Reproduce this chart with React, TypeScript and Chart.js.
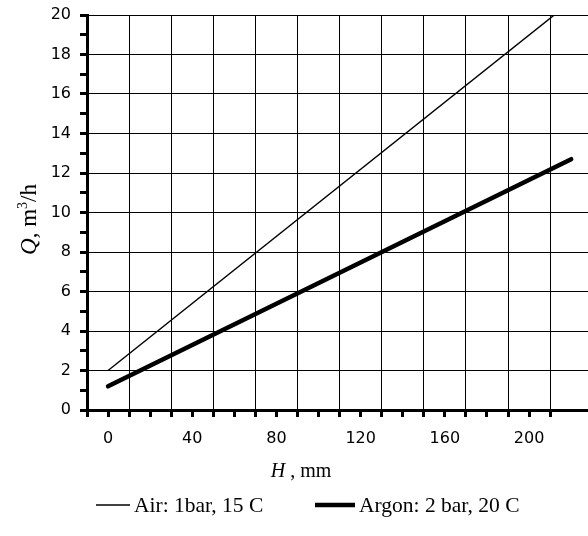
import React, { useEffect, useRef } from "react";
import { Chart, registerables } from "chart.js";

Chart.register(...registerables);

// ---- Data ----
const AIR_H = [0, 212];
const AIR_Q = [2, 20];
const ARGON_H = [0, 220];
const ARGON_Q = [1.2, 12.7];

const SERIES_LABELS = ["Air: 1bar, 15 C", "Argon: 2 bar, 20 C"];
const X_TITLE = ["H", " , mm"];
const Y_TITLE = ["Q", ", m", "3", "/h"];

const X_MIN = -10;
const X_MAX = 228;
const Y_MIN = 0;
const Y_MAX = 20;

const SERIF = "'Liberation Serif', 'Times New Roman', serif";
const SANS = "'DejaVu Sans', 'Liberation Sans', Arial, sans-serif";

const toPoints = (xs: number[], ys: number[]) => xs.map((x, i) => ({ x, y: ys[i] }));

const extrasPlugin = {
  id: "extras",
  afterDraw(chart: any) {
    const ctx = chart.ctx;
    ctx.save();
    ctx.fillStyle = "#000";
    ctx.textBaseline = "alphabetic";
    ctx.textAlign = "left";

    // X axis title (italic H)
    const fItal = `italic 20px ${SERIF}`;
    const fNorm = `20px ${SERIF}`;
    ctx.font = fItal;
    const w1 = ctx.measureText(X_TITLE[0]).width;
    ctx.font = fNorm;
    const w2 = ctx.measureText(X_TITLE[1]).width;
    let x0 = 301 - (w1 + w2) / 2;
    ctx.font = fItal;
    ctx.fillText(X_TITLE[0], x0, 477);
    ctx.font = fNorm;
    ctx.fillText(X_TITLE[1], x0 + w1, 477);

    // Y axis title (rotated)
    ctx.save();
    ctx.translate(36, 219.5);
    ctx.rotate(-Math.PI / 2);
    const yItal = `italic 23px ${SERIF}`;
    const yNorm = `23px ${SERIF}`;
    const runs = [
      { t: Y_TITLE[0], f: yItal, dy: 0 },
      { t: Y_TITLE[1], f: yNorm, dy: 0 },
      { t: Y_TITLE[2], f: `14px ${SERIF}`, dy: -9 },
      { t: Y_TITLE[3], f: yNorm, dy: 0 },
    ];
    let total = 0;
    for (const r of runs) {
      ctx.font = r.f;
      total += ctx.measureText(r.t).width;
    }
    let cx = -total / 2;
    for (const r of runs) {
      ctx.font = r.f;
      ctx.fillText(r.t, cx, r.dy);
      cx += ctx.measureText(r.t).width;
    }
    ctx.restore();

    // Legend
    const items = [
      { x1: 96, x2: 130 },
      { x1: 315, x2: 355 },
    ];
    ctx.font = `21.5px ${SERIF}`;
    chart.data.datasets.forEach((ds: any, i: number) => {
      const it = items[i];
      ctx.beginPath();
      ctx.strokeStyle = ds.borderColor;
      ctx.lineWidth = ds.borderWidth;
      ctx.lineCap = "butt";
      ctx.moveTo(it.x1, 505);
      ctx.lineTo(it.x2, 505);
      ctx.stroke();
      ctx.fillText(ds.label, it.x2 + 4, 512);
    });
    ctx.restore();
  },
};

export default function App() {
  const ref = useRef<HTMLCanvasElement | null>(null);

  useEffect(() => {
    if (!ref.current) return;
    const chart = new Chart(ref.current, {
      type: "line",
      data: {
        datasets: [
          {
            label: SERIES_LABELS[0],
            data: toPoints(AIR_H, AIR_Q),
            borderColor: "#000",
            borderWidth: 1.5,
            pointRadius: 0,
            tension: 0,
          },
          {
            label: SERIES_LABELS[1],
            data: toPoints(ARGON_H, ARGON_Q),
            borderColor: "#000",
            borderWidth: 4.5,
            borderCapStyle: "round",
            pointRadius: 0,
            tension: 0,
          },
        ],
      },
      options: {
        animation: false,
        responsive: false,
        devicePixelRatio: 1,
        layout: { padding: { top: 15, left: 0, right: 0, bottom: 0 } },
        plugins: {
          legend: { display: false },
          tooltip: { enabled: false },
        },
        scales: {
          x: {
            type: "linear",
            min: X_MIN,
            max: X_MAX,
            afterFit: (s: any) => {
              s.height = 126;
              s.paddingRight = 0;
              s.paddingLeft = 0;
            },
            border: { display: true, color: "#000", width: 3 },
            grid: {
              color: (c: any) =>
                c.tick && (c.tick.value + 10) % 20 === 0 ? "#000" : "rgba(0,0,0,0)",
              lineWidth: 1,
              tickColor: (c: any) =>
                c.tick && c.tick.value % 10 === 0 ? "#000" : "rgba(0,0,0,0)",
              tickLength: 7,
              tickWidth: 3,
            },
            ticks: {
              stepSize: 10,
              autoSkip: false,
              maxRotation: 0,
              padding: 12,
              color: "#000",
              font: { family: SANS, size: 16 },
              callback: (v: any) => (v >= 0 && v % 40 === 0 ? String(v) : ""),
            },
          },
          y: {
            type: "linear",
            min: Y_MIN,
            max: Y_MAX,
            afterFit: (s: any) => {
              s.width = 87;
              s.paddingTop = 0;
              s.paddingBottom = 0;
            },
            border: { display: true, color: "#000", width: 3 },
            grid: {
              color: (c: any) =>
                c.tick && c.tick.value % 2 === 0 ? "#000" : "rgba(0,0,0,0)",
              lineWidth: 1,
              tickColor: "#000",
              tickLength: 7,
              tickWidth: 3,
            },
            ticks: {
              stepSize: 1,
              autoSkip: false,
              padding: 9,
              color: "#000",
              font: { family: SANS, size: 16 },
              callback: (v: any) => (v % 2 === 0 ? String(v) : ""),
            },
          },
        },
      },
      plugins: [extrasPlugin],
    } as any);
    return () => chart.destroy();
  }, []);

  return (
    <div style={{ position: "absolute", left: 0, top: 0, width: 588, height: 536, background: "#fff" }}>
      <canvas ref={ref} width={588} height={536} style={{ display: "block" }} />
    </div>
  );
}
